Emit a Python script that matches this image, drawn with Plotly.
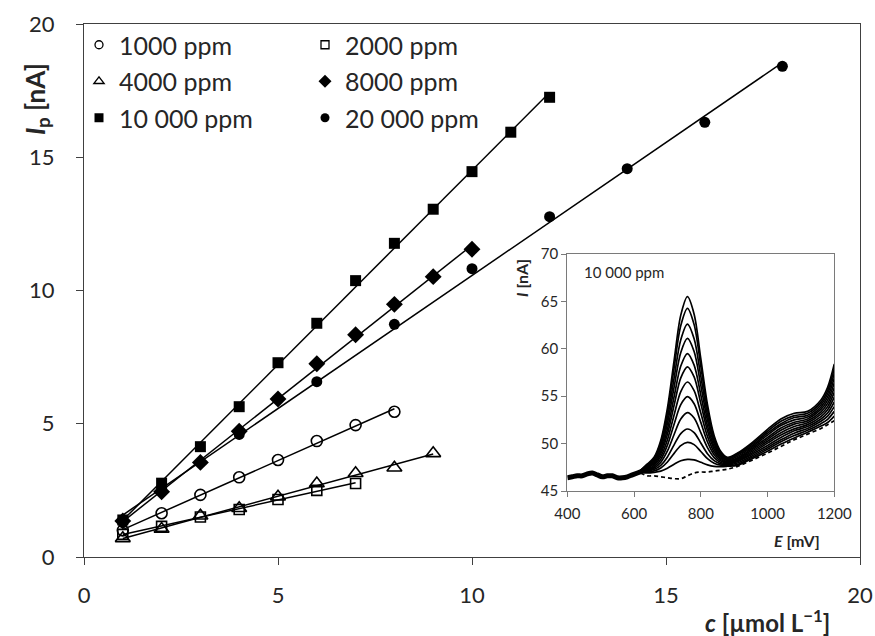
import numpy as np
import plotly.graph_objects as go

# ---------------- main chart data ----------------
c_1000 = [1, 2, 3, 4, 5, 6, 7, 8]
ip_1000 = [1.00, 1.64, 2.33, 2.99, 3.64, 4.35, 4.95, 5.45]
c_2000 = [1, 2, 3, 4, 5, 6, 7]
ip_2000 = [0.85, 1.15, 1.50, 1.78, 2.16, 2.50, 2.76]
c_4000 = [1, 2, 3, 4, 5, 6, 7, 8, 9]
ip_4000 = [0.70, 1.05, 1.55, 1.83, 2.26, 2.76, 3.14, 3.35, 3.89]
c_8000 = [1, 2, 3, 4, 5, 6, 7, 8, 9, 10]
ip_8000 = [1.35, 2.45, 3.55, 4.72, 5.93, 7.25, 8.34, 9.48, 10.52, 11.55]
c_10000 = [1, 2, 3, 4, 5, 6, 7, 8, 9, 10, 11, 12]
ip_10000 = [1.39, 2.77, 4.14, 5.64, 7.29, 8.77, 10.37, 11.77, 13.05, 14.46, 15.94, 17.25]
c_20000 = [1, 2, 4, 6, 8, 10, 12, 14, 16, 18]
ip_20000 = [1.30, 2.55, 4.60, 6.58, 8.73, 10.82, 12.77, 14.57, 16.31, 18.41]

series_names = ["1000 ppm", "2000 ppm", "4000 ppm", "8000 ppm", "10 000 ppm", "20 000 ppm"]

# ---------------- inset data (voltammograms, 10 000 ppm) ----------------
E_common = [400, 415, 430, 445, 460, 475, 490, 505, 520, 535, 550, 565, 580, 595, 610, 625]
I_common = [46.4, 46.5, 46.6, 46.6, 46.8, 46.9, 46.7, 46.5, 46.6, 46.6, 46.4, 46.4, 46.5, 46.7, 46.9, 47.1]

E_scan = [620, 640, 660, 680, 700, 720, 740, 760, 780, 800, 820, 840, 860, 880,
          910, 950, 1000, 1040, 1080, 1120, 1160, 1180, 1200]
I_blank = [46.9, 46.6, 46.6, 46.5, 46.4, 46.3, 46.3, 46.6, 46.9, 47.0, 47.0, 47.1, 47.2, 47.3,
           47.6, 48.2, 49.0, 49.7, 50.4, 51.0, 51.6, 52.0, 52.4]
I_c01 = [47.0, 46.91, 46.97, 47.10, 47.41, 47.83, 48.19, 48.34, 48.29, 48.03, 47.76, 47.60, 47.57, 47.61,
         47.70, 48.35, 49.20, 49.95, 50.60, 51.20, 51.85, 52.22, 52.90]
I_c02 = [47.0, 47.00, 47.12, 47.43, 48.06, 48.97, 49.79, 50.13, 49.89, 49.17, 48.41, 47.93, 47.72, 47.70,
         47.80, 48.50, 49.40, 50.20, 50.85, 51.40, 52.10, 52.56, 53.40]
I_c03 = [47.0, 47.08, 47.26, 47.70, 48.59, 49.87, 51.06, 51.54, 51.16, 50.07, 48.94, 48.20, 47.86, 47.78,
         47.95, 48.65, 49.60, 50.40, 51.10, 51.60, 52.35, 52.89, 53.90]
I_c04 = [47.05, 47.17, 47.41, 48.02, 49.22, 50.96, 52.59, 53.26, 52.69, 51.16, 49.57, 48.52, 48.01, 47.87,
         48.10, 48.80, 49.80, 50.65, 51.35, 51.80, 52.60, 53.23, 54.40]
I_c05 = [47.05, 47.26, 47.56, 48.33, 49.84, 52.04, 54.11, 54.95, 54.21, 52.24, 50.19, 48.83, 48.16, 47.96,
         48.20, 48.95, 50.05, 50.90, 51.55, 52.00, 52.85, 53.57, 54.90]
I_c06 = [47.1, 47.34, 47.71, 48.62, 50.41, 53.02, 55.49, 56.50, 55.59, 53.22, 50.76, 49.12, 48.31, 48.04,
         48.30, 49.10, 50.25, 51.15, 51.80, 52.20, 53.10, 53.90, 55.40]
I_c07 = [47.1, 47.43, 47.85, 48.92, 51.00, 54.04, 56.93, 58.10, 57.03, 54.24, 51.35, 49.42, 48.45, 48.13,
         48.40, 49.25, 50.45, 51.40, 52.05, 52.40, 53.35, 54.24, 55.90]
I_c08 = [47.1, 47.51, 47.99, 49.19, 51.52, 54.94, 58.18, 59.50, 58.28, 55.14, 51.87, 49.69, 48.59, 48.21,
         48.50, 49.40, 50.65, 51.65, 52.25, 52.60, 53.60, 54.58, 56.40]
I_c09 = [47.15, 47.60, 48.14, 49.49, 52.11, 55.95, 59.61, 61.10, 59.71, 56.15, 52.46, 49.99, 48.74, 48.30,
         48.65, 49.55, 50.90, 51.90, 52.50, 52.80, 53.85, 54.92, 56.90]
I_c10 = [47.15, 47.68, 48.28, 49.78, 52.67, 56.91, 60.95, 62.60, 61.05, 57.11, 53.02, 50.28, 48.88, 48.38,
         48.80, 49.70, 51.10, 52.10, 52.75, 53.00, 54.10, 55.26, 57.40]
I_c11 = [47.2, 47.77, 48.43, 50.09, 53.28, 57.97, 62.45, 64.27, 62.55, 58.17, 53.63, 50.59, 49.03, 48.47,
         48.90, 49.85, 51.30, 52.35, 52.95, 53.20, 54.35, 55.59, 57.90]
I_c12 = [47.2, 47.85, 48.56, 50.33, 53.75, 58.76, 63.55, 65.50, 63.65, 58.96, 54.10, 50.83, 49.16, 48.55,
         49.00, 50.00, 51.50, 52.60, 53.20, 53.40, 54.60, 55.93, 58.40]

FONT = "Lato, 'Open Sans', Arial, sans-serif"
TXT = "#262626"
AX = "#404040"

fig = go.Figure()

styles = [
    dict(symbol="circle-open", size=11, color="black", line=dict(width=1.6, color="black")),
    dict(symbol="square-open", size=10, color="black", line=dict(width=1.6, color="black")),
    dict(symbol="triangle-up-open", size=13, color="black", line=dict(width=1.6, color="black")),
    dict(symbol="diamond", size=13, color="black"),
    dict(symbol="square", size=11, color="black"),
    dict(symbol="circle", size=11, color="black"),
]
leg_styles = [
    dict(symbol="circle-open", size=8, color="black", line=dict(width=1.3, color="black")),
    dict(symbol="square-open", size=8, color="black", line=dict(width=1.3, color="black")),
    dict(symbol="triangle-up-open", size=9, color="black", line=dict(width=1.3, color="black")),
    dict(symbol="diamond", size=10, color="black"),
    dict(symbol="square", size=9, color="black"),
    dict(symbol="circle", size=9, color="black"),
]
xs = [c_1000, c_2000, c_4000, c_8000, c_10000, c_20000]
ys = [ip_1000, ip_2000, ip_4000, ip_8000, ip_10000, ip_20000]

# trend lines (least squares, like the spreadsheet trendline)
for x, y in zip(xs, ys):
    k, b = np.polyfit(x, y, 1)
    xl = [min(x), max(x)]
    fig.add_trace(go.Scatter(x=xl, y=[k * v + b for v in xl], mode="lines",
                             line=dict(color="black", width=1.5), showlegend=False,
                             hoverinfo="skip", xaxis="x", yaxis="y"))

for x, y, st, nm in zip(xs, ys, styles, series_names):
    fig.add_trace(go.Scatter(x=x, y=y, mode="markers", marker=st, name=nm,
                             showlegend=False, xaxis="x", yaxis="y"))

# legend entries: column 1 and column 2
legend_of = ["legend", "legend2", "legend", "legend2", "legend", "legend2"]
for i, (st, nm) in enumerate(zip(leg_styles, series_names)):
    fig.add_trace(go.Scatter(x=[None], y=[None], mode="markers", marker=st, name=nm,
                             legend=legend_of[i], legendgroup=nm, showlegend=True))

# ---------------- inset ----------------
fig.add_trace(go.Scatter(x=E_common, y=I_common, mode="lines", line=dict(color="black", width=5, shape="spline"),
                         showlegend=False, xaxis="x2", yaxis="y2", hoverinfo="skip"))
fig.add_trace(go.Scatter(x=E_scan, y=I_blank, mode="lines",
                         line=dict(color="black", width=1.7, dash="4px,3px", shape="spline"),
                         showlegend=False, xaxis="x2", yaxis="y2"))
for cur in [I_c01, I_c02, I_c03, I_c04, I_c05, I_c06, I_c07, I_c08, I_c09, I_c10, I_c11, I_c12]:
    fig.add_trace(go.Scatter(x=E_scan, y=cur, mode="lines",
                             line=dict(color="black", width=1.7, shape="spline", smoothing=0.9),
                             showlegend=False, xaxis="x2", yaxis="y2"))

PL, PR, PT, PB = 84, 860, 24, 557          # plot area in window pixels
W, H = 875, 636
L, T = PL, PT
R = W - PR
B = H - PB


def px(xp):
    return (xp - PL) / (PR - PL)


def py(yp):
    return (PB - yp) / (PB - PT)


NB = "\u00a0"

fig.update_layout(
    template="none",
    width=W, height=H,
    margin=dict(l=L, r=R, t=T, b=B, autoexpand=False),
    paper_bgcolor="white", plot_bgcolor="white",
    font=dict(family=FONT, color=TXT),
    xaxis=dict(range=[0, 20], dtick=5, tick0=0, domain=[0, 1], showgrid=False, zeroline=False,
               automargin=False, ticklabeloverflow="allow",
               showline=True, linecolor=AX, linewidth=1.3, mirror=True,
               ticks="outside", ticklen=7, tickcolor=AX, tickwidth=1.3,
               tickfont=dict(size=22, family=FONT, color=TXT), ticklabelstandoff=11),
    yaxis=dict(range=[0, 20], dtick=5, tick0=0, domain=[0, 1], showgrid=False, zeroline=False,
               automargin=False, ticklabeloverflow="allow", ticksuffix=NB * 3,
               showline=True, linecolor=AX, linewidth=1.3, mirror=True,
               ticks="outside", ticklen=7, tickcolor=AX, tickwidth=1.3,
               tickfont=dict(size=22, family=FONT, color=TXT)),
    xaxis2=dict(range=[400, 1200], dtick=200, tick0=400, domain=[px(567.3), px(834.3)], anchor="y2",
                automargin=False, ticklabeloverflow="allow",
                showgrid=False, zeroline=False, showline=True, linecolor="#7a7a7a", linewidth=1.2,
                mirror=True, ticks="outside", ticklen=5, tickcolor="#7a7a7a",
                tickfont=dict(size=15, family=FONT, color=TXT), ticklabelstandoff=4),
    yaxis2=dict(range=[45, 70], dtick=5, tick0=45, domain=[py(491), py(254)], anchor="x2",
                automargin=False, ticklabeloverflow="allow",
                showgrid=False, zeroline=False, showline=True, linecolor="#7a7a7a", linewidth=1.2,
                mirror=True, ticks="outside", ticklen=5, tickcolor="#7a7a7a",
                tickfont=dict(size=15, family=FONT, color=TXT)),
    legend=dict(x=px(79), y=py(22), xanchor="left", yanchor="top", bgcolor="rgba(0,0,0,0)",
                font=dict(size=25, family=FONT, color=TXT), tracegroupgap=1, itemwidth=30),
    legend2=dict(x=px(305), y=py(22), xanchor="left", yanchor="top", bgcolor="rgba(0,0,0,0)",
                 font=dict(size=25, family=FONT, color=TXT), tracegroupgap=1, itemwidth=30),
    showlegend=True,
)

fig.add_annotation(text="<b><i>I</i><sub>p</sub> [nA]</b>", xref="paper", yref="paper",
                   x=px(37), y=py(99), textangle=-90, showarrow=False,
                   font=dict(size=26, family=FONT, color=TXT), xanchor="center", yanchor="middle")
fig.add_annotation(text="<b><i>c</i> [µmol L<sup>−1</sup>]</b>", xref="paper", yref="paper",
                   x=px(767), y=py(621), showarrow=False,
                   font=dict(size=24, family=FONT, color=TXT), xanchor="center", yanchor="middle")
fig.add_annotation(text="<b><i>I</i> [nA]</b>", xref="paper", yref="paper",
                   x=px(521), y=py(278), textangle=-90, showarrow=False,
                   font=dict(size=16, family=FONT, color=TXT), xanchor="center", yanchor="middle")
fig.add_annotation(text="<b><i>E</i> [mV]</b>", xref="paper", yref="paper",
                   x=px(797), y=py(540), showarrow=False,
                   font=dict(size=16, family=FONT, color=TXT), xanchor="center", yanchor="middle")
fig.add_annotation(text="10 000 ppm", xref="paper", yref="paper",
                   x=px(582), y=py(272), showarrow=False,
                   font=dict(size=15, family=FONT, color=TXT), xanchor="left", yanchor="middle")

# the page's default 8 px body margin would push the 875x636 figure out of the window
fig.write_html("out.html", config={"displayModeBar": False},
               post_script="document.body.style.margin='0';document.body.style.overflow='hidden';")
